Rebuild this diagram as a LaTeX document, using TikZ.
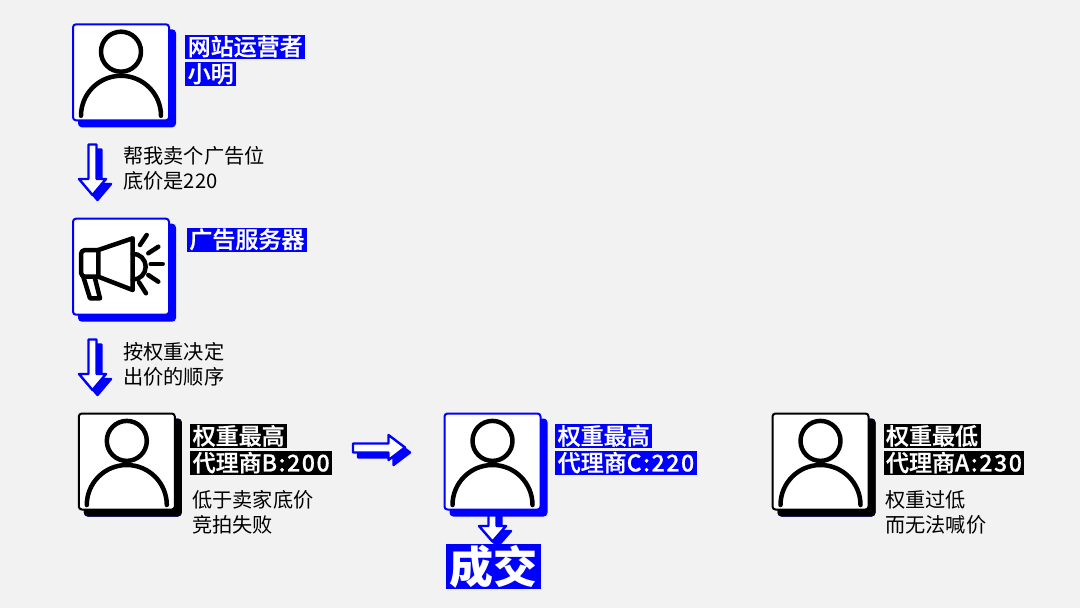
\documentclass[tikz,border=0pt]{standalone}
\usepackage{fontspec}
\setmainfont{Noto Sans CJK SC}
\newfontfamily\tagfont[FakeBold=0.9]{Noto Sans CJK SC Medium}
\usepackage{tikz}
\usetikzlibrary{positioning,shadows}
\definecolor{pageback}{HTML}{F2F2F2}
\definecolor{accent}{HTML}{0000FF}
\tikzstyle{block} = [draw=accent, fill=white, line width=2pt, rounded corners=3pt, minimum width=96pt, minimum height=96pt, inner sep=0pt, general shadow={shadow xshift=6pt, shadow yshift=-6pt, fill=accent, draw=accent}]
\tikzstyle{blockdark} = [block, draw=black, general shadow={shadow xshift=6pt, shadow yshift=-6pt, fill=black, draw=black}]
\tikzstyle{tag} = [fill=accent, text=white, font=\fontsize{23pt}{23pt}\tagfont, inner xsep=2.5pt, inner ysep=0pt, text height=20.3pt, text depth=3.7pt, anchor=west]
\tikzstyle{tagdark} = [tag, fill=black]
\tikzstyle{deal} = [tag, font=\fontsize{44pt}{44pt}\selectfont\bfseries, inner xsep=0pt, text height=39pt, text depth=5.5pt, minimum width=95pt]
\tikzstyle{note} = [font=\fontsize{20.2pt}{25pt}\selectfont, align=left, anchor=west, inner sep=0pt]
\tikzstyle{iconline} = [line width=4.5pt, line cap=round, line join=round]
\tikzstyle{arrowline} = [draw=accent, fill=white, line width=2.4pt, line join=round]
\tikzset{
	pics/personicon/.style={code={
		\draw[iconline] (0,-20.6) circle[radius=20];
		\draw[iconline] (-40,43.5) arc[start angle=180, end angle=360, radius=40];
	}},
	pics/hornicon/.style={code={
		\draw[iconline] (-22.7,-16.7) -- (11.7,-28.4) -- (11.7,23.3) -- (-22.7,10) -- cycle;
		\draw[iconline, rounded corners=4pt] (-22.7,-16.7) -- (-40,-16.7) -- (-40,10) -- (-22.7,10);
		\draw[iconline] (-37.7,10) -- (-31,31.6) -- (-21,31.6) -- (-26,11.6);
		\draw[iconline] (11.7,-13) arc[start angle=-90, end angle=90, radius=13];
		\draw[iconline] (19,-21.7) -- (25.7,-31.7);
		\draw[iconline] (27.3,-13.4) -- (37.3,-20);
		\draw[iconline] (29.7,-2.7) -- (41.7,-2.7);
		\draw[iconline] (27.3,8.3) -- (37.3,15);
		\draw[iconline] (18,15.6) -- (25,26.6);
	}}
}
\newcommand{\blockarrow}[1]{
	\draw[arrowline, fill=accent, shift={(5,5)}] #1 -- cycle;
	\draw[arrowline] #1 -- cycle;
}
\newcommand{\bidvalue}[1]{{\addfontfeature{LetterSpace=7}#1}}

\begin{document}
\begin{tikzpicture}[x=1pt, y=-1pt]
	\useasboundingbox (0,0) rectangle (1080,608);
	\fill[pageback] (0,0) rectangle (1080,608);

	\blockarrow{(88.5,144.5) -- (96.5,144.5) -- (96.5,179) -- (106,179) -- (92.5,195) -- (79,179) -- (88.5,179)}
	\blockarrow{(88.5,339.5) -- (96.5,339.5) -- (96.5,374) -- (106,374) -- (92.5,390) -- (79,374) -- (88.5,374)}
	\blockarrow{(353,443.5) -- (388.5,443.5) -- (388.5,435) -- (405,447.5) -- (388.5,460) -- (388.5,452.5) -- (353,452.5)}
	\blockarrow{(488.5,505) -- (496.5,505) -- (496.5,526) -- (506,526) -- (492.5,541.5) -- (479,526) -- (488.5,526)}

	\node (OWNER) [block] at (121,72.3) {};
	\node (SERVER) [block] at (121,266.7) {};
	\node (AGENT_B) [blockdark] at (126.8,461.5) {};
	\node (AGENT_C) [block] at (492.5,461.5) {};
	\node (AGENT_A) [blockdark] at (820.5,461.5) {};
	\pic at (OWNER) {personicon};
	\pic at (SERVER) {hornicon};
	\pic at (AGENT_B) {personicon};
	\pic at (AGENT_C) {personicon};
	\pic at (AGENT_A) {personicon};

	\node (OWNER_ROLE) [tag] at (185,47) {网站运营者};
	\node (OWNER_NAME) [tag, below=2.6pt of OWNER_ROLE.south west, anchor=north west] {小明};
	\node (SERVER_ROLE) [tag] at (186.7,239.7) {广告服务器};
	\node (B_WEIGHT) [tagdark] at (190,436.3) {权重最高};
	\node (B_BID) [tagdark, below=2.4pt of B_WEIGHT.south west, anchor=north west] {代理商\bidvalue{B:200}};
	\node (C_WEIGHT) [tag] at (555,436.3) {权重最高};
	\node (C_BID) [tag, below=2.4pt of C_WEIGHT.south west, anchor=north west] {代理商\bidvalue{C:220}};
	\node (A_WEIGHT) [tagdark] at (883.3,436.3) {权重最低};
	\node (A_BID) [tagdark, below=2.4pt of A_WEIGHT.south west, anchor=north west] {代理商\bidvalue{A:230}};
	\node (DEAL) [deal] at (445.3,566.7) {成交};

	\node (ASK_NOTE) [note] at (123,168.2) {帮我卖个广告位\\底价是220};
	\node (ORDER_NOTE) [note] at (123,364.2) {按权重决定\\出价的顺序};
	\node (B_NOTE) [note] at (192,512.5) {低于卖家底价\\竞拍失败};
	\node (A_NOTE) [note] at (885,512.5) {权重过低\\而无法喊价};
\end{tikzpicture}
\end{document}
